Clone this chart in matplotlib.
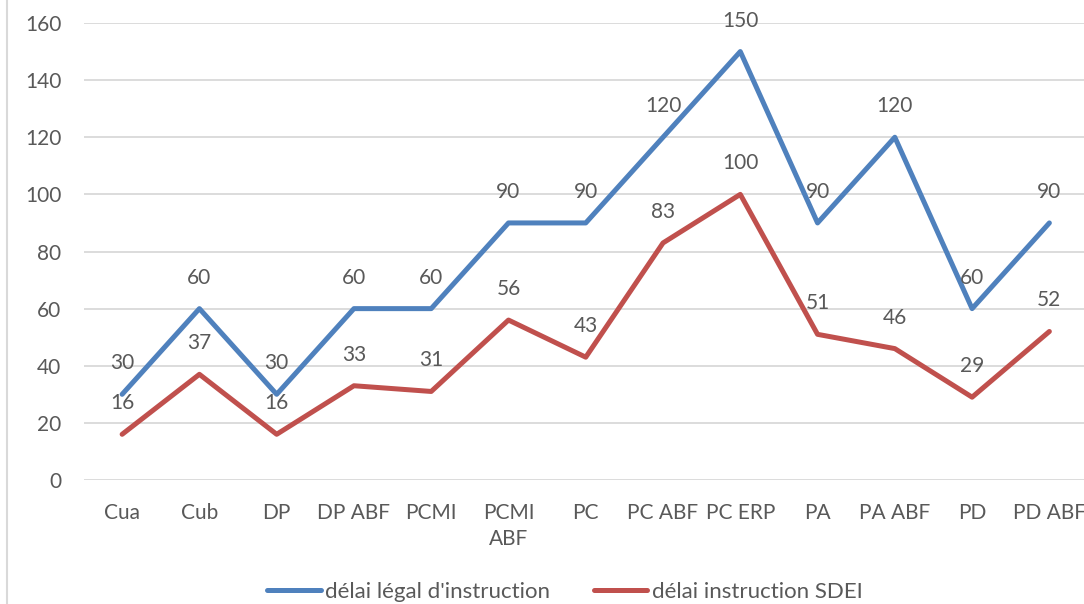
import matplotlib
matplotlib.use("Agg")
import matplotlib.pyplot as plt
from matplotlib.lines import Line2D

categories = ["Cua", "Cub", "DP", "DP ABF", "PCMI", "PCMI\nABF", "PC", "PC ABF",
              "PC ERP", "PA", "PA ABF", "PD", "PD ABF"]
delai_legal = [30, 60, 30, 60, 60, 90, 90, 120, 150, 90, 120, 60, 90]
delai_sdei = [16, 37, 16, 33, 31, 56, 43, 83, 100, 51, 46, 29, 52]
series_names = ["délai légal d'instruction", "délai instruction SDEI"]
yticks = [0, 20, 40, 60, 80, 100, 120, 140, 160]

BLUE = "#4F81BD"
RED = "#C0504D"
TXT = "#595959"
GRID = "#D9D9D9"
FS = 15

plt.rcParams['font.family'] = ['Lato', 'DejaVu Sans']

W, H = 1084, 604
fig = plt.figure(figsize=(W / 100, H / 100), dpi=100)
left = 83.5 / W
bottom = 1 - 480 / H
top = 1 - 23 / H
ax = fig.add_axes([left, bottom, (1088 - 83.5) / W, top - bottom])

x = list(range(len(categories)))
for vals, col, name in [(delai_legal, BLUE, series_names[0]), (delai_sdei, RED, series_names[1])]:
    ax.plot(x, vals, color=col, lw=3.6, solid_capstyle='round', solid_joinstyle='round',
            label=name, zorder=3)
    for xi, v in zip(x, vals):
        ax.annotate(str(v), (xi, v), xytext=(0, 31), textcoords='offset pixels',
                    ha='center', va='center', fontsize=FS, color=TXT, zorder=4)

ax.set_xlim(-0.5, len(categories) - 0.5)
ax.set_ylim(0, 160)
ax.set_yticks(yticks)
ax.set_xticks(x)
ax.set_xticklabels(categories, linespacing=1.4)
ax.tick_params(axis='both', length=0, labelsize=FS, labelcolor=TXT)
ax.tick_params(axis='y', pad=16)
ax.tick_params(axis='x', pad=16.5)
ax.grid(axis='y', color=GRID, lw=1.3)
ax.set_axisbelow(True)
for s in ax.spines.values():
    s.set_visible(False)

fig.add_artist(Line2D([7 / W, 7 / W], [0, 1], color=GRID, lw=1.5, transform=fig.transFigure))

fig.legend(loc='center', bbox_to_anchor=(565 / W, 1 - 592 / H), ncol=2, frameon=False,
           fontsize=16, labelcolor=TXT, handlelength=2.4, handletextpad=0.22,
           columnspacing=1.95, borderpad=0, borderaxespad=0)

fig.savefig("out.png", dpi=100)
